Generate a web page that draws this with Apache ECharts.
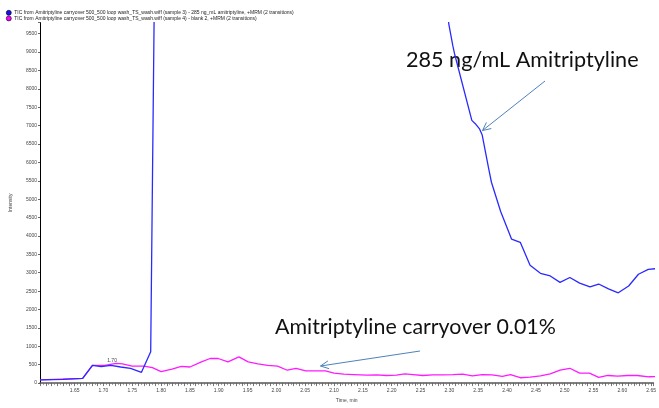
<!DOCTYPE html>
<html>
<head>
<meta charset="utf-8">
<script src="https://cdn.jsdelivr.net/npm/echarts@6/dist/echarts.min.js"></script>
<style>
  html, body { margin: 0; padding: 0; background: #fff; }
  #chart { width: 659px; height: 408px; }
</style>
</head>
<body>
<div id="chart"></div>
<script>
// 图例文字
const seriesNames = [
  "TIC from Amitriptyline carryover 500_500 loop wash_TS_wash.wiff (sample 3) - 285 ng_mL amitriptyline, +MRM (2 transitions)",
  "TIC from Amitriptyline carryover 500_500 loop wash_TS_wash.wiff (sample 4) - blank 2, +MRM (2 transitions)"
];

// sample 3 (blue) — peak goes far off scale between 1.80 and 2.28
const sample3Time = [1.590, 1.630, 1.664, 1.681, 1.696, 1.713, 1.730, 1.747, 1.766, 1.782,
  1.800, 1.850, 1.950, 2.050, 2.150, 2.220, 2.282,
  2.299, 2.306, 2.309, 2.339, 2.345, 2.352, 2.357, 2.369, 2.373, 2.389, 2.408, 2.423,
  2.440, 2.458, 2.475, 2.492, 2.509, 2.526, 2.544, 2.559, 2.576, 2.593, 2.611, 2.628, 2.645, 2.662];
const sample3Intensity = [85, 101, 127, 483, 446, 483, 438, 403, 292, 854,
  28350, 180000, 420000, 350000, 120000, 40000, 12500,
  9768, 9174, 8954, 7142, 7052, 6919, 6744, 5770, 5460, 4664, 3913, 3826,
  3205, 2985, 2913, 2738, 2871, 2719, 2613, 2693, 2560, 2454, 2640, 2958, 3091, 3117];

// sample 4 (magenta) — blank
const sample4Time = [1.590, 1.664, 1.681, 1.702, 1.722, 1.733, 1.750, 1.770, 1.785, 1.800,
  1.819, 1.835, 1.850, 1.870, 1.885, 1.899, 1.916, 1.935, 1.951, 1.968,
  1.985, 2.002, 2.019, 2.034, 2.051, 2.071, 2.085, 2.100, 2.117, 2.134,
  2.157, 2.174, 2.191, 2.208, 2.223, 2.237, 2.254, 2.271, 2.289, 2.306,
  2.323, 2.340, 2.357, 2.374, 2.392, 2.406, 2.423, 2.440, 2.458, 2.475,
  2.492, 2.509, 2.526, 2.543, 2.559, 2.575, 2.592, 2.609, 2.626, 2.646, 2.662];
const sample4Intensity = [85, 127, 483, 483, 536, 525, 464, 464, 419, 313,
  377, 456, 438, 578, 669, 669, 578, 711, 578, 525,
  483, 464, 350, 403, 332, 332, 332, 271, 244, 233,
  218, 226, 207, 218, 252, 233, 207, 226, 226, 233,
  244, 199, 233, 226, 180, 233, 146, 164, 199, 252,
  350, 403, 271, 271, 154, 207, 191, 207, 207, 172, 180];

// 刻度
const xLabelStep = 0.05;
const xFirstLabel = 1.65;
const yTickStep = 500;
const peakLabel = { time: 1.715, intensity: 623, text: "1.70" };

const annotations = ["285 ng/mL Amitriptyline", "Amitriptyline carryover 0.01%"];

function pairs(xs, ys) {
  return xs.map((x, i) => [x, ys[i]]);
}

function arrow(x1, y1, x2, y2) {
  // 箭头: 直线 + 开口 V 形箭头
  const a = Math.atan2(y2 - y1, x2 - x1);
  const L = 9, w = 0.45;
  return {
    type: "group",
    children: [
      { type: "line", shape: { x1, y1, x2, y2 }, style: { stroke: "#4f81bd", lineWidth: 1 } },
      {
        type: "polyline",
        shape: {
          points: [
            [x2 - L * Math.cos(a - w), y2 - L * Math.sin(a - w)],
            [x2, y2],
            [x2 - L * Math.cos(a + w), y2 - L * Math.sin(a + w)]
          ]
        },
        style: { stroke: "#4f81bd", lineWidth: 1, fill: null }
      }
    ]
  };
}

const chart = echarts.init(document.getElementById("chart"), null, { renderer: "canvas" });

chart.setOption({
  animation: false,
  backgroundColor: "#fff",
  textStyle: { fontFamily: "Liberation Sans" },
  grid: { left: 40, right: 0, top: 22.6, bottom: 15.5, containLabel: false },
  legend: {
    orient: "vertical",
    left: 6,
    top: 10,
    itemGap: 0,
    itemWidth: 5,
    itemHeight: 5,
    icon: "circle",
    padding: 0,
    textStyle: { fontSize: 5, color: "#222", padding: [0, 0, 0, -2] },
    data: [
      { name: seriesNames[0], itemStyle: { color: "#1010ff", borderColor: "#000", borderWidth: 0.6 } },
      { name: seriesNames[1], itemStyle: { color: "#ff00ff", borderColor: "#000", borderWidth: 0.6 } }
    ]
  },
  xAxis: {
    type: "value",
    min: 1.59,
    max: 2.654,
    interval: 0.01,
    name: "Time, min",
    nameLocation: "middle",
    nameGap: 12,
    nameTextStyle: { fontSize: 5, color: "#444" },
    axisLine: { lineStyle: { color: "#555", width: 1.5 } },
    axisTick: { length: 3, lineStyle: { color: "#555", width: 0.8 } },
    minorTick: { show: true, splitNumber: 2, length: 2, lineStyle: { color: "#666", width: 0.6 } },
    splitLine: { show: false },
    axisLabel: {
      interval: 0,
      fontSize: 5,
      color: "#444",
      margin: 5,
      formatter: function (v) {
        const k = v / xLabelStep;
        if (v < xFirstLabel - 1e-6) return "";
        return Math.abs(k - Math.round(k)) < 1e-6 ? v.toFixed(2) : "";
      }
    }
  },
  yAxis: {
    type: "value",
    min: 0,
    max: 9800,
    interval: yTickStep,
    name: "Intensity",
    nameLocation: "middle",
    nameGap: 27,
    nameTextStyle: { fontSize: 5, color: "#444" },
    axisLine: { show: true, lineStyle: { color: "#000", width: 1 } },
    axisTick: { show: true, length: 2, lineStyle: { color: "#444", width: 0.8 } },
    splitLine: { show: false },
    axisLabel: {
      fontSize: 5,
      color: "#444",
      margin: 3,
      formatter: function (v) {
        return v % yTickStep === 0 ? String(v) : "";
      }
    }
  },
  series: [
    {
      name: seriesNames[1],
      type: "line",
      data: pairs(sample4Time, sample4Intensity),
      showSymbol: false,
      clip: true,
      lineStyle: { color: "#ff1aff", width: 1.3 },
      itemStyle: { color: "#ff00ff" },
      markPoint: {
        symbol: "circle",
        symbolSize: 1,
        itemStyle: { color: "rgba(0,0,0,0)" },
        label: { show: true, position: "inside", fontSize: 5, color: "#444", formatter: peakLabel.text },
        data: [{ coord: [peakLabel.time, peakLabel.intensity] }]
      }
    },
    {
      name: seriesNames[0],
      type: "line",
      data: pairs(sample3Time, sample3Intensity),
      showSymbol: false,
      clip: true,
      lineStyle: { color: "#2a2aff", width: 1.3 },
      itemStyle: { color: "#1010ff" }
    }
  ],
  graphic: [
    {
      type: "text",
      left: 406,
      top: 49,
      style: { text: annotations[0], font: "21.6px Lato", fill: "#111" }
    },
    {
      type: "text",
      left: 275,
      top: 317,
      style: { text: annotations[1], font: "21.4px Lato", fill: "#111" }
    },
    arrow(545, 81, 482.5, 130.5),
    arrow(420, 351, 320.5, 366)
  ]
});
</script>
</body>
</html>
